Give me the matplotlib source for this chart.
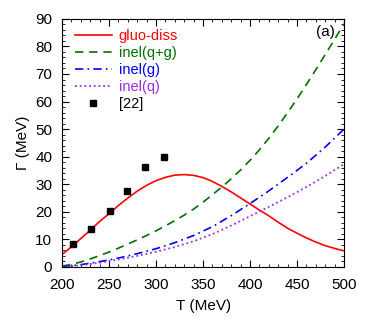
import matplotlib
matplotlib.use('Agg')
import matplotlib.pyplot as plt
from matplotlib.ticker import MultipleLocator

plt.rcParams['font.family'] = ['Liberation Sans', 'DejaVu Sans']
plt.rcParams['font.size'] = 10

# temperatura (MeV)
T = [200, 210, 220, 230, 240, 250, 260, 270, 280, 290, 300, 310, 320, 330, 340, 350,
     360, 370, 380, 390, 400, 410, 420, 430, 440, 450, 460, 470, 480, 490, 500]

gluo = [4.5, 7.3, 10.3, 13.3, 16.5, 19.3, 22.3, 25.0, 27.5, 29.6, 31.3, 32.5, 33.3, 33.5, 33.2, 32.4,
        31.0, 29.2, 27.2, 25.0, 22.8, 20.6, 18.5, 16.2, 14.0, 12.2, 10.5, 9.0, 7.7, 6.7, 5.8]

inel_qg = [0.3, 0.9, 1.8, 2.9, 4.1, 5.4, 6.8, 8.3, 9.8, 11.4, 13.1, 14.9, 16.8, 18.8, 21.0, 23.5,
           26.2, 29.0, 32.0, 35.2, 38.7, 42.5, 46.7, 51.2, 56.0, 61.0, 66.2, 71.6, 77.1, 82.6, 88.2]

T2 = [200, 220, 240, 260, 280, 300, 320, 340, 360, 380, 400, 420, 440, 460, 480, 500]
inel_g = [0.0, 0.8, 1.9, 3.2, 4.8, 6.6, 8.8, 11.4, 14.6, 18.6, 23.0, 27.6, 32.5, 37.6, 43.5, 50.0]
inel_q = [0.0, 0.6, 1.5, 2.7, 4.0, 5.5, 7.2, 9.3, 11.9, 15.0, 18.4, 21.8, 25.3, 29.0, 33.0, 37.3]

# pontos da ref. [22]
Tref = [212, 230.5, 250.5, 269, 288.5, 308]
Gref = [8.3, 13.7, 20.1, 27.5, 36.4, 39.7]

fig = plt.figure(figsize=(3.74, 3.2), dpi=100)
ax = fig.add_axes([0.166, 0.166, 0.754, 0.775])

ax.plot(T, gluo, color='red', lw=1.2, label='gluo-diss')
ax.plot(T, inel_qg, color='#007000', lw=1.2, ls=(0, (5, 3.5)), label='inel(q+g)')
ax.plot(T2, inel_g, color='blue', lw=1.2, ls=(0, (5, 2.5, 1, 2.5)), label='inel(g)')
ax.plot(T2, inel_q, color='#9b30e0', lw=1.3, ls=(0, (1, 1.6)), label='inel(q)')
ax.plot(Tref, Gref, 's', color='black', ms=4, ls='none', label='[22]')

ax.set_xlim(200, 500)
ax.set_ylim(0, 90)
ax.xaxis.set_major_locator(MultipleLocator(50))
ax.xaxis.set_minor_locator(MultipleLocator(10))
ax.yaxis.set_major_locator(MultipleLocator(10))
ax.yaxis.set_minor_locator(MultipleLocator(2))
ax.tick_params(which='both', direction='in', top=True, right=True, labelsize=11)
ax.tick_params(which='major', length=5)
ax.tick_params(which='minor', length=2.5)
ax.tick_params(axis='x', pad=8)
ax.tick_params(axis='y', pad=7)

ax.set_xlabel('T (MeV)', fontsize=11, labelpad=5)
ax.set_ylabel('Γ (MeV)', fontsize=11, labelpad=4)

ax.text(0.968, 0.975, '(a)', transform=ax.transAxes, ha='right', va='top', fontsize=11)

leg = ax.legend(loc='upper left', bbox_to_anchor=(0.01, 1.0), frameon=False, handlelength=2.5,
                handletextpad=0.5, labelspacing=0.2, numpoints=1, fontsize=10.5,
                borderaxespad=0.3)
for txt, ln in zip(leg.get_texts(), leg.get_lines()):
    txt.set_color(ln.get_color())

fig.savefig('out.png', dpi=100)
